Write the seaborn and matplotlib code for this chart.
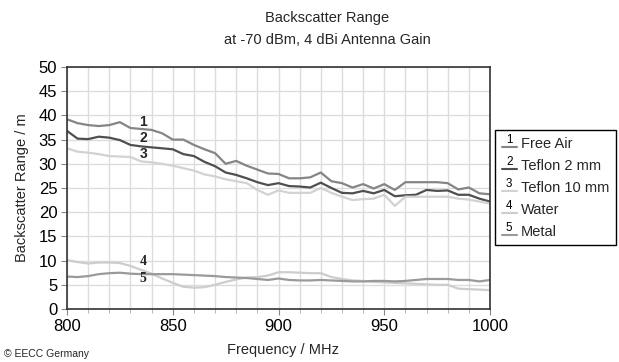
import numpy as np
import pandas as pd
import seaborn as sns
import matplotlib
matplotlib.use("Agg")
import matplotlib.pyplot as plt
from matplotlib.lines import Line2D
from matplotlib.text import Text
from matplotlib.legend_handler import HandlerBase
from matplotlib.ticker import MultipleLocator

# ---- data ----
freq = list(range(800, 1001, 5))
free_air = [39.2, 38.4, 38.0, 37.8, 38.0, 38.6, 37.4, 37.2, 37.0, 36.3, 35.0,
            35.0, 33.9, 33.0, 32.2, 30.0, 30.6, 29.6, 28.8, 28.0, 27.9,
            27.0, 27.0, 27.2, 28.2, 26.4, 26.0, 25.1, 25.8, 24.9, 25.8,
            24.6, 26.2, 26.2, 26.2, 26.2, 26.0, 24.7, 25.1, 23.9, 23.7]
teflon_2 = [36.8, 35.2, 35.1, 35.6, 35.4, 34.9, 33.9, 33.6, 33.4, 33.2, 33.0,
            32.0, 31.6, 30.4, 29.5, 28.2, 27.7, 27.0, 26.2, 25.6, 26.0,
            25.4, 25.3, 25.1, 26.1, 25.0, 24.0, 23.9, 24.4, 23.9, 24.6,
            23.3, 23.5, 23.6, 24.6, 24.4, 24.5, 23.6, 23.6, 22.8, 22.2]
teflon_10 = [33.2, 32.5, 32.3, 32.0, 31.6, 31.5, 31.4, 30.5, 30.3, 30.0, 29.6,
             29.1, 28.6, 27.8, 27.4, 26.8, 26.4, 26.0, 24.6, 23.6, 24.5,
             24.0, 24.0, 24.0, 25.0, 24.0, 23.2, 22.5, 22.7, 22.8, 23.6,
             21.3, 23.2, 23.2, 23.2, 23.2, 23.2, 22.8, 22.6, 22.2, 21.8]
water = [10.1, 9.7, 9.4, 9.6, 9.6, 9.5, 8.9, 8.1, 7.3, 6.3, 5.4,
         4.6, 4.4, 4.5, 5.0, 5.6, 6.1, 6.5, 6.6, 6.9, 7.6,
         7.6, 7.5, 7.4, 7.4, 6.6, 6.2, 5.9, 5.8, 5.6, 5.5,
         5.4, 5.3, 5.2, 5.1, 5.0, 5.0, 4.2, 4.1, 4.0, 3.9]
metal = [6.7, 6.6, 6.8, 7.2, 7.4, 7.5, 7.3, 7.2, 7.2, 7.2, 7.2,
         7.1, 7.0, 6.9, 6.8, 6.6, 6.5, 6.4, 6.2, 6.0, 6.3,
         6.0, 5.9, 5.9, 6.0, 5.9, 5.8, 5.7, 5.7, 5.8, 5.8,
         5.7, 5.8, 6.0, 6.2, 6.2, 6.2, 6.0, 6.0, 5.7, 6.0]

series_names = ["Free Air", "Teflon 2 mm", "Teflon 10 mm", "Water", "Metal"]
series_nums = ["1", "2", "3", "4", "5"]
series_vals = [free_air, teflon_2, teflon_10, water, metal]
colors = ["#858585", "#4f4f4f", "#d2d2d2", "#cdcdcd", "#9a9a9a"]

df = pd.concat([pd.DataFrame({"Frequency": freq, "Range": v, "Series": n})
                for n, v in zip(series_names, series_vals)], ignore_index=True)

sns.set_theme(style="white")
plt.rcParams["font.family"] = ["Liberation Sans", "DejaVu Sans"]

fig = plt.figure(figsize=(6.19, 3.62), dpi=100)
ax = fig.add_axes([67/619, 1-309/362, (490-67)/619, (309-67)/362])

palette = dict(zip(series_names, colors))
sns.lineplot(data=df, x="Frequency", y="Range", hue="Series", palette=palette,
             hue_order=series_names, linewidth=1.6, legend=False, ax=ax)

ax.set_xlim(800, 1000)
ax.set_ylim(0, 50)
ax.xaxis.set_major_locator(MultipleLocator(50))
ax.xaxis.set_minor_locator(MultipleLocator(10))
ax.yaxis.set_major_locator(MultipleLocator(5))
ax.grid(True, which="major", axis="y", color="#dcdcdc", lw=1.0)
ax.grid(True, which="both", axis="x", color="#dcdcdc", lw=1.0)
ax.set_axisbelow(True)
for s in ax.spines.values():
    s.set_visible(True)
    s.set_color("#333333")
    s.set_linewidth(1.2)
ax.tick_params(axis="both", which="major", direction="out", length=4, width=0.8,
               color="#888888", labelsize=12, labelcolor="black", left=True, bottom=True, pad=3)
ax.tick_params(axis="x", which="minor", direction="out", length=3, width=0.6,
               color="#aaaaaa", bottom=True)
ax.set_xlabel("")
ax.set_ylabel("")

# curve number labels
ax.text(836, 38.7, "1", fontsize=10, fontweight="bold", ha="center", va="center")
ax.text(836, 35.4, "2", fontsize=10, fontweight="bold", ha="center", va="center")
ax.text(836, 32.1, "3", fontsize=10, fontweight="bold", ha="center", va="center")
ax.text(836, 9.8, "4", fontsize=10, fontweight="bold", ha="center", va="center",
        family=["Liberation Serif", "DejaVu Serif"])
ax.text(836, 6.3, "5", fontsize=10, fontweight="bold", ha="center", va="center",
        family=["Liberation Serif", "DejaVu Serif"])

# titles and labels
fig.text(327/619, 1-18/362, "Backscatter Range", ha="center", va="center", fontsize=10.5)
fig.text(327/619, 1-40/362, "at -70 dBm, 4 dBi Antenna Gain", ha="center", va="center", fontsize=10.5)
fig.text(22/619, 1-188/362, "Backscatter Range / m", rotation=90, ha="center", va="center", fontsize=10.5)
fig.text(283/619, 1-350/362, "Frequency / MHz", ha="center", va="center", fontsize=10.5)
fig.text(4/619, 1-354/362, "© EECC Germany", ha="left", va="center", fontsize=7.5)


class NumHandler(HandlerBase):
    def __init__(self, num):
        super().__init__()
        self.num = num

    def create_artists(self, legend, orig_handle, xdescent, ydescent, width,
                       height, fontsize, trans):
        y0 = -ydescent + 0.05 * height
        line = Line2D([-xdescent, -xdescent + width], [y0, y0],
                      color=orig_handle.get_color(), lw=1.5, transform=trans)
        t = Text(-xdescent + width / 2, y0 + 0.5, self.num, ha="center", va="bottom",
                 fontsize=fontsize * 0.8, color="black", transform=trans)
        return [line, t]


handles = [Line2D([], [], color=c, label=n) for c, n in zip(colors, series_names)]
hmap = {h: NumHandler(num) for h, num in zip(handles, series_nums)}
leg = fig.legend(handles=handles, handler_map=hmap, loc="upper left",
                 bbox_to_anchor=(495/619, 1-130/362), fontsize=10.5, frameon=True,
                 fancybox=False, edgecolor="black", framealpha=1,
                 handlelength=1.05, handletextpad=0.3, labelspacing=0.55,
                 borderpad=0.45, borderaxespad=0)
leg.get_frame().set_linewidth(1.0)

fig.savefig("out.png", dpi=100)
